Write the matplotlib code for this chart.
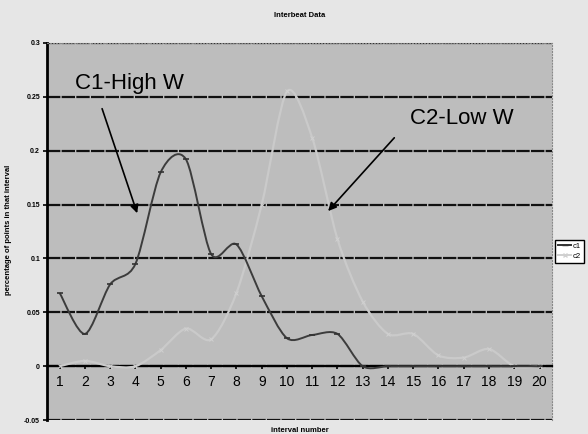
import matplotlib.pyplot as plt
import numpy as np
from matplotlib.path import Path
from matplotlib.patches import PathPatch

plt.rcParams['font.family'] = ['Liberation Sans', 'DejaVu Sans']

# data
intervals = np.arange(1, 21)
c1 = [0.068, 0.030, 0.076, 0.095, 0.180, 0.192, 0.104, 0.113, 0.065, 0.026,
      0.029, 0.030, 0.0, 0.0, 0.0, 0.0, 0.0, 0.0, 0.0, 0.0]
c2 = [0.0, 0.005, 0.0, 0.0, 0.015, 0.035, 0.025, 0.068, 0.150, 0.255,
      0.212, 0.118, 0.060, 0.030, 0.030, 0.010, 0.008, 0.016, 0.0, 0.0]
tick_labels = [str(i) for i in intervals]


def smooth_path(xs, ys, tension=1/7.):
    # excel style smoothed line: cubic bezier segments through the points
    pts = np.column_stack([xs, ys]).astype(float)
    verts = [pts[0]]
    codes = [Path.MOVETO]
    n = len(pts)
    for i in range(n - 1):
        p0 = pts[max(i - 1, 0)]
        p1 = pts[i]
        p2 = pts[i + 1]
        p3 = pts[min(i + 2, n - 1)]
        verts += [p1 + (p2 - p0) * tension, p2 - (p3 - p1) * tension, p2]
        codes += [Path.CURVE4] * 3
    return Path(verts, codes)


fig = plt.figure(figsize=(5.88, 4.34), dpi=100, facecolor='#e6e6e6')
ax = fig.add_axes([0.080, 0.032, 0.859, 0.869])
ax.set_facecolor('#bdbdbd')

ax.set_xlim(0.5, 20.5)
ax.set_ylim(-0.05, 0.3)
ax.set_yticks(np.arange(-0.05, 0.301, 0.05))
ax.set_yticklabels(['-0.05', '0', '0.05', '0.1', '0.15', '0.2', '0.25', '0.3'],
                   fontsize=5, fontweight='bold')
ax.set_xticks(intervals)
ax.set_xticklabels(tick_labels, fontsize=4.5, color='#222222')
ax.tick_params(axis='x', length=2, pad=4, width=1.2)
ax.tick_params(axis='y', length=3, width=1.2, pad=2)

ax.yaxis.grid(True, color='#111111', linewidth=1.6, linestyle=(0, (6, 0.6)))
ax.set_axisbelow(True)

ax.spines['bottom'].set_position(('data', 0))
ax.spines['bottom'].set_linewidth(1.6)
ax.spines['left'].set_linewidth(2)
ax.spines['top'].set_color('#888888')
ax.spines['right'].set_color('#888888')
ax.spines['top'].set_linestyle(':')
ax.spines['right'].set_linestyle(':')

# c2 (very faint light line with x markers)
ax.add_patch(PathPatch(smooth_path(intervals, c2), facecolor='none',
                       edgecolor='#cacaca', linewidth=1.6, zorder=3))
ax.plot(intervals, c2, linestyle='none', marker='x', markersize=3.5,
        color='#d0d0d0', mew=0.7, zorder=3)
# c1 (dark smoothed line)
ax.add_patch(PathPatch(smooth_path(intervals, c1), facecolor='none',
                       edgecolor='#3c3c3c', linewidth=1.4, zorder=4))
ax.plot(intervals, c1, linestyle='none', marker='_', markersize=4,
        color='#333333', mew=1.2, zorder=4)

# legend handles
h1, = ax.plot([], [], color='#333333', linewidth=1.4, marker='_', markersize=4)
h2, = ax.plot([], [], color='#d0d0d0', linewidth=1.4, marker='x', markersize=3)
fig.legend([h1, h2], ['c1', 'c2'], loc='upper left',
           bbox_to_anchor=(0.944, 0.447), fontsize=5.5, frameon=True,
           fancybox=False, edgecolor='black', framealpha=1,
           handlelength=1.8, borderpad=0.35, labelspacing=0.35,
           handletextpad=0.2, borderaxespad=0)

fig.text(0.51, 0.965, 'Interbeat Data', ha='center', va='center',
         fontsize=5.5, fontweight='bold')
fig.text(0.51, 0.007, 'interval number', ha='center', va='center',
         fontsize=5.5, fontweight='bold')
fig.text(0.014, 0.47, 'percentage of points in that interval', rotation=90,
         ha='center', va='center', fontsize=5.5, fontweight='bold')

ax.text(3.75, 0.262, 'C1-High W', fontsize=16, ha='center', va='center')
ax.text(16.94, 0.230, 'C2-Low W', fontsize=16, ha='center', va='center')
arrow = dict(arrowstyle='-|>', color='black', lw=1.2,
             mutation_scale=12, shrinkA=0, shrinkB=0)
ax.annotate('', xy=(4.07, 0.142), xytext=(2.68, 0.239), arrowprops=arrow)
ax.annotate('', xy=(11.63, 0.144), xytext=(14.25, 0.212), arrowprops=arrow)

fig.savefig('out.png', dpi=100, facecolor=fig.get_facecolor())
